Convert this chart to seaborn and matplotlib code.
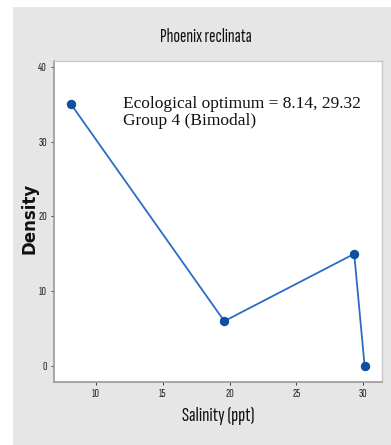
import matplotlib
matplotlib.use("Agg")
import matplotlib.pyplot as plt
import seaborn as sns
import pandas as pd
from matplotlib.patches import Rectangle

# Data
salinity = [8.14, 19.6, 29.32, 30.1]
density = [35, 6, 15, 0]
x_ticks = [10, 15, 20, 25, 30]
y_ticks = [0, 10, 20, 30, 40]

df = pd.DataFrame({"Salinity (ppt)": salinity, "Density": density})

sns.set_style("white")
plt.rcParams['font.family'] = ['Sofia Sans Extra Condensed', 'Fira Sans Extra Condensed', 'DejaVu Sans']

W, H = 391, 445
fig = plt.figure(figsize=(W / 100, H / 100), dpi=100, facecolor="white")
# grey panel behind the plot (Minitab style)
fig.patches.append(Rectangle((13 / W, 0), 1 - 13 / W, 1 - 7 / H, transform=fig.transFigure,
                             facecolor="#e6e6e6", edgecolor="none", zorder=-1))

ax = fig.add_axes([54 / W, 1 - 382 / H, (382 - 54) / W, (382 - 61) / H])
ax.set_facecolor("white")

sns.lineplot(data=df, x="Salinity (ppt)", y="Density", ax=ax, color="#2b6cc4",
             linewidth=1.3, marker="o", markersize=6, markerfacecolor="#0d4fa3",
             markeredgecolor="#0d4fa3", sort=False)

ax.set_xlim(6.86, 31.4)
ax.set_ylim(-2.14, 40.8)
ax.set_xticks(x_ticks)
ax.set_yticks(y_ticks)
ax.tick_params(axis="both", labelsize=9, length=2, width=0.6, colors="#222222",
               direction="out", bottom=True, left=True, pad=3)
for lbl in ax.get_xticklabels() + ax.get_yticklabels():
    lbl.set_fontweight("bold")
for side, sp in ax.spines.items():
    sp.set_color("#9a9a9a" if side in ("left", "bottom") else "#c8c8c8")
    sp.set_linewidth(1.2 if side in ("left", "bottom") else 1.0)

ax.set_xlabel("Salinity (ppt)", fontsize=15, fontweight=600, color="#111111")
ax.xaxis.set_label_coords(0.5, -(416 - 382) / (382 - 61))
ax.set_ylabel("Density", fontsize=12, fontweight="bold", family="DejaVu Sans",
              color="#111111")
ax.yaxis.set_label_coords(-(54 - 30) / (382 - 54), (382 - 218) / (382 - 61))
ax.xaxis.label.set_va("center")
ax.yaxis.label.set_va("center")

fig.text(206 / W, 1 - 37 / H, "Phoenix reclinata", fontsize=14, fontweight=600,
         ha="center", va="center", color="#111111")

fig.text(123 / W, 1 - 96 / H, "Ecological optimum = 8.14, 29.32\nGroup 4 (Bimodal)",
         fontsize=12.5, family="Liberation Serif", ha="left", va="top",
         color="#111111", linespacing=1.05)

fig.savefig("out.png", dpi=100, facecolor="white")
